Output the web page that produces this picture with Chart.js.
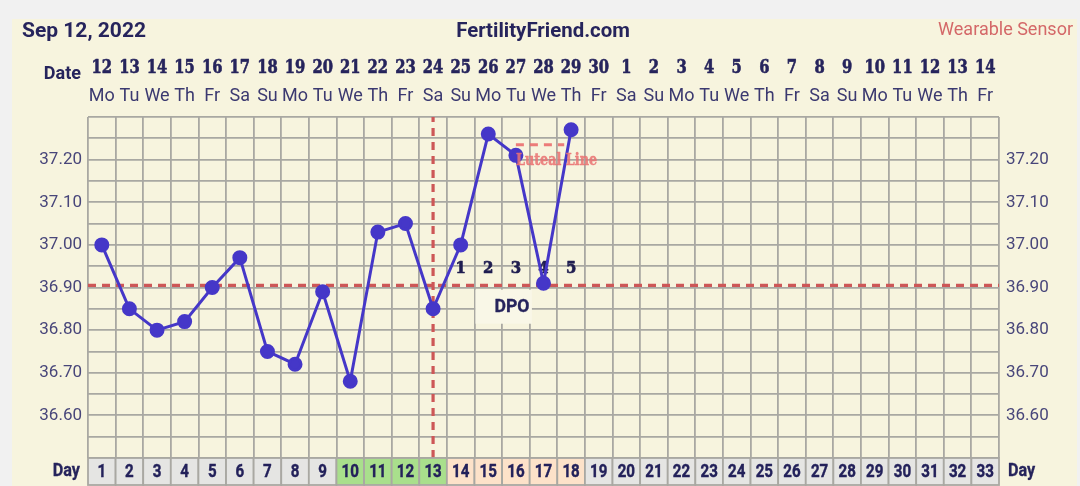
<!DOCTYPE html>
<html>
<head>
  <title>FertilityFriend chart</title>
  <style>
    body { margin: 0; background: #f1f1f1; }
    #panel { position: absolute; left: 12px; top: 19px; width: 1065px; height: 467px; background: #f7f4de; }
    #chart { position: absolute; left: 0; top: 0; }
  </style>
</head>
<body>
  <div id="panel"></div>
  <canvas id="chart" width="1080" height="486"></canvas>

  <script src="https://cdn.jsdelivr.net/npm/chart.js@4.4.1/dist/chart.umd.min.js"></script>
  <script>
    // header texts
    const chartDate = "Sep 12, 2022";
    const siteName = "FertilityFriend.com";
    const sourceName = "Wearable Sensor";

    // one column per cycle day
    const dayNums = [1, 2, 3, 4, 5, 6, 7, 8, 9, 10, 11, 12, 13, 14, 15, 16, 17, 18, 19, 20, 21, 22, 23, 24, 25, 26, 27, 28, 29, 30, 31, 32, 33];
    const dateNums = ["12", "13", "14", "15", "16", "17", "18", "19", "20", "21", "22", "23", "24", "25", "26", "27", "28", "29", "30",
                      "1", "2", "3", "4", "5", "6", "7", "8", "9", "10", "11", "12", "13", "14"];
    const weekdays = ["Mo", "Tu", "We", "Th", "Fr", "Sa", "Su", "Mo", "Tu", "We", "Th", "Fr", "Sa", "Su", "Mo", "Tu", "We", "Th", "Fr", "Sa", "Su",
                      "Mo", "Tu", "We", "Th", "Fr", "Sa", "Su", "Mo", "Tu", "We", "Th", "Fr"];

    // temperatures recorded
    const tempDays = [1, 2, 3, 4, 5, 6, 7, 8, 9, 10, 11, 12, 13, 14, 15, 16, 17, 18];
    const temps = [37.00, 36.85, 36.80, 36.82, 36.90, 36.97, 36.75, 36.72, 36.89, 36.68, 37.03, 37.05, 36.85, 37.00, 37.26, 37.21, 36.91, 37.27];

    // y axis
    const yMin = 36.50;
    const yMax = 37.30;
    const yGrid = [36.50, 36.55, 36.60, 36.65, 36.70, 36.75, 36.80, 36.85, 36.90, 36.95, 37.00, 37.05, 37.10, 37.15, 37.20, 37.25, 37.30];
    const yLabels = [36.60, 36.70, 36.80, 36.90, 37.00, 37.10, 37.20];

    // coverline, ovulation, luteal line
    const coverTemp = 36.905;
    const ovulationDay = 13;
    const lutealTemp = 37.235;
    const lutealStart = 16;
    const lutealEnd = 17.75;

    // fertile days and days past ovulation
    const fertileDays = [10, 11, 12, 13];
    const dpoDays = [14, 15, 16, 17, 18];
    const dpoLabels = ["1", "2", "3", "4", "5"];

    const navy = "#26245c";
    const gridGray = "#a9a8a2";

    function txt(ctx, s, x, y, font, color, align, sx, heavy) {
      ctx.save();
      ctx.font = font;
      ctx.fillStyle = color;
      ctx.textAlign = align || "center";
      ctx.textBaseline = "middle";
      ctx.translate(x, y);
      ctx.scale(sx || 1, 1);
      ctx.fillText(s, 0, 0);
      if (heavy) {
        ctx.strokeStyle = color;
        ctx.lineWidth = heavy;
        ctx.lineJoin = "round";
        ctx.strokeText(s, 0, 0);
      }
      ctx.restore();
    }

    const decor = {
      id: "decor",
      beforeDatasetsDraw(chart) {
        const ctx = chart.ctx, xs = chart.scales.x, ys = chart.scales.y;
        // DPO box hides the grid behind it
        const x0 = xs.getPixelForValue(14.5), x1 = xs.getPixelForValue(16.58);
        const y0 = ys.getPixelForValue(36.895), y1 = ys.getPixelForValue(36.815);
        ctx.save();
        ctx.fillStyle = "#f9f7e7";
        ctx.fillRect(x0 + 1, y0, x1 - x0 - 1, y1 - y0);
        ctx.restore();
        txt(ctx, "DPO", xs.getPixelForValue(15.86), (y0 + y1) / 2 + 1, "bold 18px Roboto", navy, "center", 0.98, 0.3);
        // DPO numbers
        dpoDays.forEach((d, i) => {
          txt(ctx, dpoLabels[i], xs.getPixelForValue(d), ys.getPixelForValue(36.945), "bold 17px 'DejaVu Serif'", "#1f1d50", "center", 0.88, 0.7);
        });
      },
      afterDraw(chart) {
        const ctx = chart.ctx, xs = chart.scales.x, ys = chart.scales.y;
        const area = chart.chartArea;

        // header
        txt(ctx, chartDate, 22, 32, "bold 20px Roboto", navy, "left", 1.05);
        txt(ctx, siteName, 543, 32, "bold 20px Roboto", navy, "center", 1.02);
        txt(ctx, sourceName, 1073, 30, "18px Roboto", "#d46868", "right");

        // date rows
        txt(ctx, "Date", 81, 74, "bold 18px Roboto", navy, "right");
        dayNums.forEach((d, i) => {
          const x = xs.getPixelForValue(d);
          txt(ctx, dateNums[i], x, 68, "bold 18px 'DejaVu Serif'", navy, "center", 0.82, 0.6);
          txt(ctx, weekdays[i], x, 96, "18px Roboto", "#3b3970", "center");
        });

        // temperature labels both sides
        yLabels.forEach(v => {
          const y = ys.getPixelForValue(v);
          txt(ctx, v.toFixed(2), 82, y, "17px Roboto", "#48467a", "right");
          txt(ctx, v.toFixed(2), 1006, y, "17px Roboto", "#48467a", "left");
        });

        // cycle day row
        const top = area.bottom, h = 27;
        dayNums.forEach(d => {
          const x0 = xs.getPixelForValue(d - 0.5), x1 = xs.getPixelForValue(d + 0.5);
          let fill = "#e5e5e3";
          if (fertileDays.includes(d)) fill = "#a9df8c";
          if (dpoDays.includes(d)) fill = "#fde2c9";
          ctx.fillStyle = fill;
          ctx.fillRect(x0, top, x1 - x0, h);
          ctx.strokeStyle = gridGray;
          ctx.lineWidth = 1.8;
          ctx.strokeRect(x0, top, x1 - x0, h);
          txt(ctx, String(d), (x0 + x1) / 2, top + h / 2 + 1, "bold 18px Roboto", "#23215a", "center", 0.84, 0.4);
        });
        txt(ctx, "Day", 80, top + h / 2, "bold 18px Roboto", navy, "right", 0.9, 0.3);
        txt(ctx, "Day", 1008, top + h / 2, "bold 18px Roboto", navy, "left", 0.9, 0.3);

        // luteal line label
        ctx.save();
        ctx.globalAlpha = 0.85;
        txt(ctx, "Luteal Line", xs.getPixelForValue(lutealStart), ys.getPixelForValue(37.197), "bold 16px 'DejaVu Serif'", "#ea7272", "left", 0.8, 0.5);
        ctx.restore();
      }
    };

    const xGrid = dayNums.map(d => d - 0.5).concat([dayNums.length + 0.5]);

    new Chart("chart", {
      type: "line",
      data: {
        datasets: [{
          data: tempDays.map((d, i) => ({x: d, y: temps[i]})),
          borderColor: "#4537c8",
          backgroundColor: "#4537c8",
          borderWidth: 3,
          pointRadius: 6,
          tension: 0
        }, {
          data: [{x: lutealStart, y: lutealTemp}, {x: lutealEnd, y: lutealTemp}],
          borderColor: "rgba(234,110,110,0.9)",
          borderWidth: 3,
          borderDash: [8, 6],
          pointRadius: 0
        }, {
          data: [{x: 0.5, y: coverTemp}, {x: dayNums.length + 0.5, y: coverTemp}],
          borderColor: "#cd5757",
          borderWidth: 3.2,
          borderDash: [8, 6],
          pointRadius: 0
        }, {
          data: [{x: ovulationDay, y: yMin}, {x: ovulationDay, y: yMax}],
          borderColor: "#cd5757",
          borderWidth: 3.2,
          borderDash: [8, 6],
          pointRadius: 0
        }]
      },
      options: {
        responsive: false,
        animation: false,
        events: [],
        layout: {padding: {left: 88, right: 81, top: 117, bottom: 28}},
        plugins: {legend: {display: false}, tooltip: {enabled: false}},
        scales: {
          x: {
            type: "linear",
            min: 0.5,
            max: dayNums.length + 0.5,
            afterBuildTicks: s => { s.ticks = xGrid.map(v => ({value: v})); },
            ticks: {display: false},
            grid: {color: gridGray, lineWidth: 1.8, drawTicks: false},
            border: {display: false}
          },
          y: {
            min: yMin,
            max: yMax,
            afterBuildTicks: s => { s.ticks = yGrid.map(v => ({value: v})); },
            ticks: {display: false},
            grid: {color: gridGray, lineWidth: 1.8, drawTicks: false},
            border: {display: false}
          }
        }
      },
      plugins: [decor]
    });
  </script>
</body>
</html>
